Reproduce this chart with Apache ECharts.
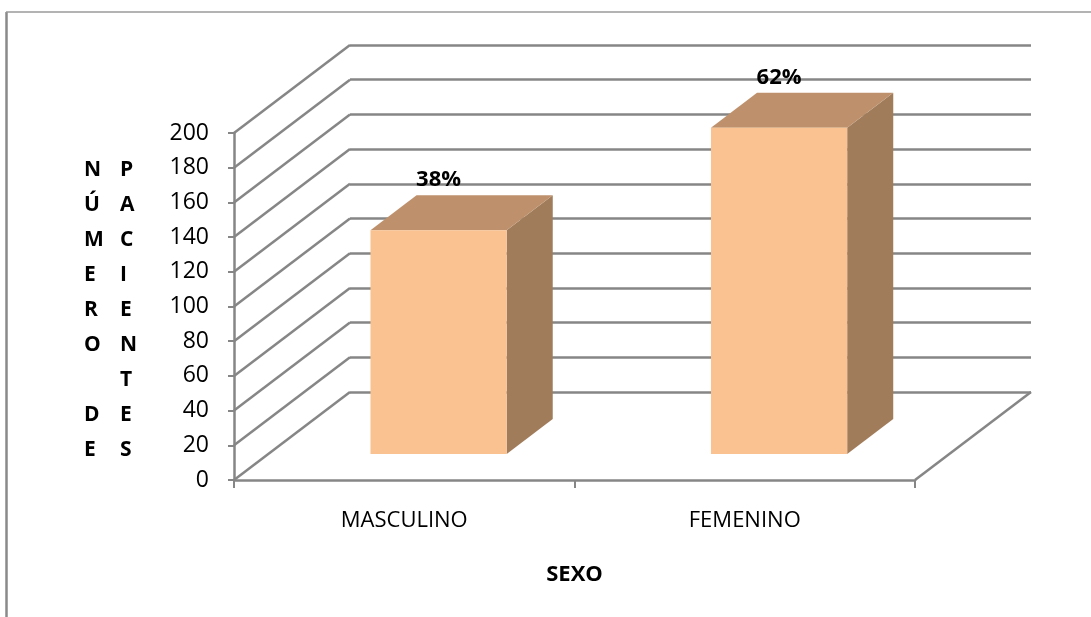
<!DOCTYPE html>
<html>
<head>
<meta charset="utf-8">
<title>Número de pacientes por sexo</title>
<script src="https://cdn.jsdelivr.net/npm/echarts@6/dist/echarts.min.js"></script>
<style>
  html, body { margin: 0; padding: 0; background: #ffffff; }
  #chart { width: 1091px; height: 617px; }
</style>
</head>
<body>
<div id="chart"></div>
<script>
// Patients by sex
const categories = ['MASCULINO', 'FEMENINO'];
const pacientes = [129, 188];
const pctLabels = ['38%', '62%'];
const yTicks = [0, 20, 40, 60, 80, 100, 120, 140, 160, 180, 200];

// Stacked letters of the vertical axis title (two columns)
const titleCol1 = ['N', 'Ú', 'M', 'E', 'R', 'O', '', 'D', 'E'];
const titleCol2 = ['P', 'A', 'C', 'I', 'E', 'N', 'T', 'E', 'S'];

// Oblique 3D projection: offset from the front plane to the back wall
const DEPTH_X = 116;
const DEPTH_Y = 88;
// Bar depth span (fraction of the full depth) and width (fraction of the band)
const BAR_FRONT = 0.296;
const BAR_BACK = 0.693;
const BAR_WIDTH = 0.4;

const GRID_COLOR = '#868686';
const GRID_WIDTH = 2.5;
const FACE_FRONT = '#F9C290';
const FACE_TOP = '#BE916C';
const FACE_SIDE = '#A07C5B';
const FONT = '"Open Sans", "Noto Sans", sans-serif';

const chart = echarts.init(document.getElementById('chart'), null, { renderer: 'canvas' });

// Diagonal lines of the left wall and the floor's right edge
function renderWalls(params, api) {
  const cs = params.coordSys;
  const v = api.value(1);
  const y = api.coord([0, v])[1];
  const children = [{
    type: 'line',
    shape: { x1: cs.x, y1: y, x2: cs.x + DEPTH_X, y2: y - DEPTH_Y },
    style: { stroke: GRID_COLOR, lineWidth: GRID_WIDTH }
  }];
  if (v === 0) {
    children.push({
      type: 'line',
      shape: { x1: cs.x + cs.width, y1: y, x2: cs.x + cs.width + DEPTH_X, y2: y - DEPTH_Y },
      style: { stroke: GRID_COLOR, lineWidth: GRID_WIDTH }
    });
  }
  return { type: 'group', children: children };
}

// 3D box: front face, top face and right side, plus the percentage label
function renderBox(params, api) {
  const idx = api.value(0);
  const val = api.value(1);
  const top = api.coord([idx, val]);
  const base = api.coord([idx, 0]);
  const w = api.size([1, 0])[0] * BAR_WIDTH;
  const fx = DEPTH_X * BAR_FRONT, fy = DEPTH_Y * BAR_FRONT;
  const bx = DEPTH_X * BAR_BACK, by = DEPTH_Y * BAR_BACK;
  const x0 = top[0] - w / 2, x1 = top[0] + w / 2;
  const yT = top[1], yB = base[1];
  return {
    type: 'group',
    children: [
      {
        type: 'polygon',
        shape: { points: [[x1 + fx, yT - fy], [x1 + bx, yT - by], [x1 + bx, yB - by], [x1 + fx, yB - fy]] },
        style: { fill: FACE_SIDE }
      },
      {
        type: 'polygon',
        shape: { points: [[x0 + fx, yT - fy], [x1 + fx, yT - fy], [x1 + bx, yT - by], [x0 + bx, yT - by]] },
        style: { fill: FACE_TOP }
      },
      {
        type: 'rect',
        shape: { x: x0 + fx, y: yT - fy, width: w, height: yB - yT },
        style: { fill: FACE_FRONT }
      },
      {
        type: 'text',
        style: {
          text: pctLabels[idx],
          x: top[0] + fx,
          y: yT - by - 15,
          align: 'center',
          verticalAlign: 'middle',
          fontFamily: FONT,
          fontWeight: 'bold',
          fontSize: 22,
          fill: '#000000'
        }
      }
    ]
  };
}

const titleGraphics = [titleCol1, titleCol2].map(function (col, i) {
  return {
    type: 'text',
    left: i === 0 ? 84 : 120,
    top: 153,
    style: {
      text: col.join('\n'),
      align: 'center',
      lineHeight: 35,
      fontFamily: FONT,
      fontWeight: 'bold',
      fontSize: 21,
      fill: '#000000'
    }
  };
});

const option = {
  backgroundColor: '#ffffff',
  animation: false,
  graphic: [
    {
      type: 'line',
      shape: { x1: 6.5, y1: 12, x2: 6.5, y2: 617 },
      style: { stroke: '#8a8a8a', lineWidth: 2.5 }
    },
    {
      type: 'line',
      shape: { x1: 6, y1: 12, x2: 1091, y2: 12 },
      style: { stroke: '#9a9a9a', lineWidth: 1.5 }
    }
  ].concat(titleGraphics),
  grid: [
    { left: 234, top: 133, width: 681, height: 347 },
    { left: 350, top: 45, width: 681, height: 347 }
  ],
  xAxis: [
    {
      type: 'category',
      gridIndex: 0,
      data: categories,
      boundaryGap: true,
      axisLine: { lineStyle: { color: GRID_COLOR, width: GRID_WIDTH } },
      axisTick: { show: true, length: 8, lineStyle: { color: GRID_COLOR, width: 2 } },
      axisLabel: { margin: 30, color: '#000000', fontFamily: FONT, fontSize: 22 },
      name: 'SEXO',
      nameLocation: 'middle',
      nameGap: 84,
      nameTextStyle: { color: '#000000', fontFamily: FONT, fontWeight: 'bold', fontSize: 22 }
    },
    {
      type: 'category',
      gridIndex: 1,
      data: categories,
      show: false
    }
  ],
  yAxis: [
    {
      type: 'value',
      gridIndex: 0,
      min: 0,
      max: 200,
      interval: 20,
      axisLine: { show: true, lineStyle: { color: GRID_COLOR, width: GRID_WIDTH } },
      axisTick: { show: true, length: 6, lineStyle: { color: GRID_COLOR, width: 2 } },
      axisLabel: { margin: 25, color: '#000000', fontFamily: FONT, fontSize: 23, padding: [9, 0, 0, 0] },
      splitLine: { show: false }
    },
    {
      type: 'value',
      gridIndex: 1,
      min: 0,
      max: 200,
      interval: 20,
      axisLine: { show: false },
      axisTick: { show: false },
      axisLabel: { show: false },
      splitLine: { show: true, lineStyle: { color: GRID_COLOR, width: GRID_WIDTH } }
    }
  ],
  series: [
    {
      type: 'custom',
      name: 'paredes',
      xAxisIndex: 0,
      yAxisIndex: 0,
      silent: true,
      z: 1,
      renderItem: renderWalls,
      encode: { x: 0, y: 1 },
      data: yTicks.map(function (t) { return [0, t]; })
    },
    {
      type: 'custom',
      name: 'Pacientes',
      xAxisIndex: 0,
      yAxisIndex: 0,
      z: 3,
      renderItem: renderBox,
      encode: { x: 0, y: 1 },
      data: pacientes.map(function (v, i) { return [i, v]; })
    }
  ]
};

chart.setOption(option);
</script>
</body>
</html>
